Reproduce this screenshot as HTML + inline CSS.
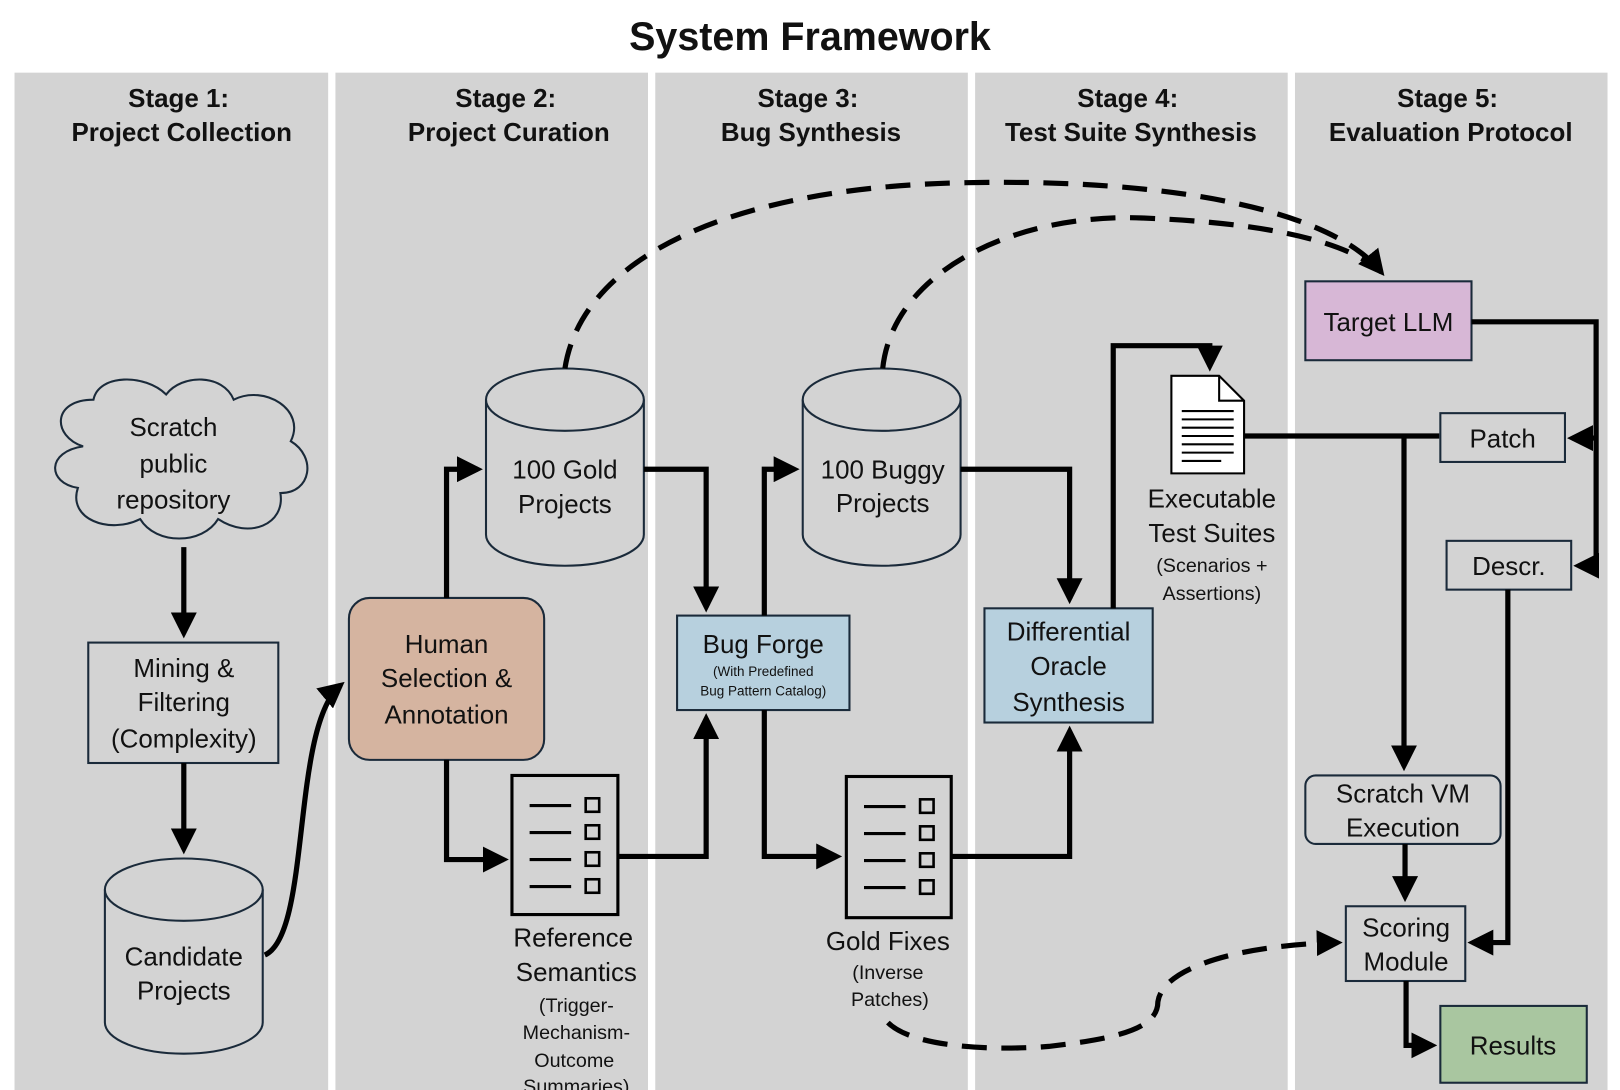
<!DOCTYPE html>
<html><head><meta charset="utf-8"><style>
html,body{margin:0;padding:0;background:#fff;}
svg{display:block;}
text{font-family:"Liberation Sans",sans-serif;fill:#111;}
.h{font-weight:bold;font-size:25px;}
.t{font-size:25px;}
.s{font-size:19px;}
.xs{font-size:13px;}
.ln{stroke:#000;stroke-width:5;fill:none;}
.bx{stroke:#1a2a3a;stroke-width:2;}
.ds{stroke:#000;stroke-width:5;fill:none;stroke-dasharray:24 14;}
</style></head><body>
<svg width="1620" height="1090" viewBox="0 0 1560 1050" preserveAspectRatio="none" xmlns="http://www.w3.org/2000/svg">
<defs>
<marker id="a" markerWidth="5" markerHeight="5" refX="4" refY="2.5" orient="auto" markerUnits="strokeWidth"><path d="M0,0 L5,2.5 L0,5 z" fill="#000"/></marker>
</defs>
<rect width="1560" height="1050" fill="#fff"/>
<text x="780" y="48" text-anchor="middle" style="font-weight:bold;font-size:38px">System Framework</text>
<g fill="#d3d3d3">
<rect x="14" y="70" width="302" height="985"/>
<rect x="323" y="70" width="301" height="985"/>
<rect x="631" y="70" width="301" height="985"/>
<rect x="939" y="70" width="301" height="985"/>
<rect x="1247" y="70" width="301" height="985"/>
</g>
<g class="h" text-anchor="middle">
<text class="h" x="172" y="103">Stage 1:</text><text class="h" x="175" y="136">Project Collection</text>
<text class="h" x="487" y="103">Stage 2:</text><text class="h" x="490" y="136">Project Curation</text>
<text class="h" x="778" y="103">Stage 3:</text><text class="h" x="781" y="136">Bug Synthesis</text>
<text class="h" x="1086" y="103">Stage 4:</text><text class="h" x="1089" y="136">Test Suite Synthesis</text>
<text class="h" x="1394" y="103">Stage 5:</text><text class="h" x="1397" y="136">Evaluation Protocol</text>
</g>

<!-- cloud -->
<path d="M80,430 C50,420 50,385 90,385 C95,360 140,360 160,380 C175,360 215,360 225,385 C255,370 295,395 280,425 C305,440 300,475 270,475 C275,505 240,520 210,500 C195,525 150,525 135,500 C105,515 65,500 75,470 C45,465 45,435 80,430 z" fill="#d3d3d3" stroke="#1a2a3a" stroke-width="2"/>
<g class="t" text-anchor="middle">
<text class="t" x="167" y="420">Scratch</text><text class="t" x="167" y="455">public</text><text class="t" x="167" y="490">repository</text>
</g>
<line class="ln" x1="177" y1="527" x2="177" y2="610" marker-end="url(#a)"/>
<rect class="bx" x="85" y="619" width="183" height="116" fill="#d3d3d3"/>
<g text-anchor="middle"><text class="t" x="177" y="652">Mining &amp;</text><text class="t" x="177" y="685">Filtering</text><text class="t" x="177" y="720">(Complexity)</text></g>
<line class="ln" x1="177" y1="735" x2="177" y2="818" marker-end="url(#a)"/>
<!-- candidate cylinder -->
<path d="M101,857 L101,985 A76,30 0 0 0 253,985 L253,857" fill="#d3d3d3" stroke="#1a2a3a" stroke-width="2"/>
<ellipse cx="177" cy="857" rx="76" ry="30" fill="#d3d3d3" stroke="#1a2a3a" stroke-width="2"/>
<g text-anchor="middle"><text class="t" x="177" y="930">Candidate</text><text class="t" x="177" y="963">Projects</text></g>
<path class="ln" d="M255,920 C300,900 280,700 328,660" marker-end="url(#a)"/>

<!-- human -->
<rect x="336" y="576" width="188" height="156" rx="20" fill="#d5b4a0" stroke="#1a2a3a" stroke-width="2"/>
<g text-anchor="middle"><text class="t" x="430" y="629">Human</text><text class="t" x="430" y="662">Selection &amp;</text><text class="t" x="430" y="697">Annotation</text></g>
<path class="ln" d="M430,576 L430,452 L460,452" marker-end="url(#a)"/>
<path class="ln" d="M430,732 L430,828 L485,828" marker-end="url(#a)"/>

<!-- gold cylinder -->
<path d="M468,385 L468,515 A76,30 0 0 0 620,515 L620,385" fill="#d3d3d3" stroke="#1a2a3a" stroke-width="2"/>
<ellipse cx="544" cy="385" rx="76" ry="30" fill="#d3d3d3" stroke="#1a2a3a" stroke-width="2"/>
<g text-anchor="middle"><text class="t" x="544" y="461">100 Gold</text><text class="t" x="544" y="494">Projects</text></g>

<!-- reference doc -->
<g stroke="#000" fill="none">
<rect x="493" y="747" width="102" height="134" stroke-width="3"/>
<g stroke-width="3"><line x1="510" y1="776" x2="550" y2="776"/><line x1="510" y1="802" x2="550" y2="802"/><line x1="510" y1="828" x2="550" y2="828"/><line x1="510" y1="854" x2="550" y2="854"/></g>
<g stroke-width="2.5"><rect x="564" y="769" width="13" height="13"/><rect x="564" y="795" width="13" height="13"/><rect x="564" y="821" width="13" height="13"/><rect x="564" y="847" width="13" height="13"/></g>
</g>
<g text-anchor="middle"><text class="t" x="552" y="912">Reference</text><text class="t" x="555" y="945">Semantics</text>
<text class="s" x="555" y="975">(Trigger-</text><text class="s" x="555" y="1001">Mechanism-</text><text class="s" x="553" y="1028">Outcome</text><text class="s" x="555" y="1053">Summaries)</text></g>
<path class="ln" d="M620,452 L680,452 L680,585" marker-end="url(#a)"/>
<path class="ln" d="M595,825 L680,825 L680,692" marker-end="url(#a)"/>

<!-- bug forge -->
<rect class="bx" x="652" y="593" width="166" height="91" fill="#b7d0de"/>
<g text-anchor="middle"><text class="t" x="735" y="629">Bug Forge</text><text class="xs" x="735" y="651">(With Predefined</text><text class="xs" x="735" y="670">Bug Pattern Catalog)</text></g>
<path class="ln" d="M736,593 L736,452 L765,452" marker-end="url(#a)"/>
<path class="ln" d="M736,684 L736,825 L806,825" marker-end="url(#a)"/>

<!-- buggy cylinder -->
<path d="M773,385 L773,515 A76,30 0 0 0 925,515 L925,385" fill="#d3d3d3" stroke="#1a2a3a" stroke-width="2"/>
<ellipse cx="849" cy="385" rx="76" ry="30" fill="#d3d3d3" stroke="#1a2a3a" stroke-width="2"/>
<g text-anchor="middle"><text class="t" x="850" y="461">100 Buggy</text><text class="t" x="850" y="493">Projects</text></g>

<!-- gold fixes doc -->
<g stroke="#000" fill="none">
<rect x="815" y="748" width="101" height="136" stroke-width="3"/>
<g stroke-width="3"><line x1="832" y1="777" x2="872" y2="777"/><line x1="832" y1="803" x2="872" y2="803"/><line x1="832" y1="829" x2="872" y2="829"/><line x1="832" y1="855" x2="872" y2="855"/></g>
<g stroke-width="2.5"><rect x="886" y="770" width="13" height="13"/><rect x="886" y="796" width="13" height="13"/><rect x="886" y="822" width="13" height="13"/><rect x="886" y="848" width="13" height="13"/></g>
</g>
<g text-anchor="middle"><text class="t" x="855" y="915">Gold Fixes</text><text class="s" x="855" y="943">(Inverse</text><text class="s" x="857" y="969">Patches)</text></g>
<path class="ln" d="M925,452 L1030,452 L1030,577" marker-end="url(#a)"/>
<path class="ln" d="M916,825 L1030,825 L1030,704" marker-end="url(#a)"/>

<!-- differential -->
<rect class="bx" x="948" y="586" width="162" height="110" fill="#b7d0de"/>
<g text-anchor="middle"><text class="t" x="1029" y="617">Differential</text><text class="t" x="1029" y="650">Oracle</text><text class="t" x="1029" y="685">Synthesis</text></g>
<path class="ln" d="M1072,586 L1072,333 L1165,333 L1165,353" marker-end="url(#a)"/>

<!-- test doc -->
<path d="M1128,362 L1174,362 L1198,386 L1198,456 L1128,456 z" fill="#fff" stroke="#000" stroke-width="2"/>
<path d="M1174,362 L1174,386 L1198,386" fill="none" stroke="#000" stroke-width="2"/>
<g stroke="#000" stroke-width="2"><line x1="1138" y1="396" x2="1188" y2="396"/><line x1="1138" y1="404" x2="1188" y2="404"/><line x1="1138" y1="412" x2="1188" y2="412"/><line x1="1138" y1="420" x2="1188" y2="420"/><line x1="1138" y1="428" x2="1188" y2="428"/><line x1="1138" y1="436" x2="1188" y2="436"/><line x1="1138" y1="444" x2="1176" y2="444"/></g>
<g text-anchor="middle"><text class="t" x="1167" y="489">Executable</text><text class="t" x="1167" y="522">Test Suites</text><text class="s" x="1167" y="551">(Scenarios +</text><text class="s" x="1167" y="578">Assertions)</text></g>
<path class="ln" d="M1198,420 L1386,420"/>
<path class="ln" d="M1352,420 L1352,738" marker-end="url(#a)"/>

<!-- target LLM -->
<rect class="bx" x="1257" y="271" width="160" height="76" fill="#d7b7d6"/>
<text class="t" x="1337" y="319" text-anchor="middle">Target LLM</text>
<path class="ln" d="M1417,310 L1537,310 L1537,545 L1520,545" marker-end="url(#a)"/>
<path class="ln" d="M1537,422 L1514,422" marker-end="url(#a)"/>
<rect class="bx" x="1387" y="398" width="120" height="47" fill="#d3d3d3"/>
<text class="t" x="1447" y="431" text-anchor="middle">Patch</text>
<rect class="bx" x="1393" y="521" width="120" height="47" fill="#d3d3d3"/>
<text class="t" x="1453" y="554" text-anchor="middle">Descr.</text>
<path class="ln" d="M1452,568 L1452,908 L1418,908" marker-end="url(#a)"/>

<rect class="bx" x="1257" y="747" width="188" height="66" rx="10" fill="#d3d3d3"/>
<g text-anchor="middle"><text class="t" x="1351" y="773">Scratch VM</text><text class="t" x="1351" y="806">Execution</text></g>
<line class="ln" x1="1353" y1="813" x2="1353" y2="864" marker-end="url(#a)"/>
<rect class="bx" x="1296" y="873" width="115" height="72" fill="#d3d3d3"/>
<g text-anchor="middle"><text class="t" x="1354" y="902">Scoring</text><text class="t" x="1354" y="935">Module</text></g>
<path class="ln" d="M1354,945 L1354,1007 L1379,1007" marker-end="url(#a)"/>
<rect class="bx" x="1387" y="969" width="141" height="74" fill="#a9c6a0"/>
<text class="t" x="1457" y="1016" text-anchor="middle">Results</text>

<!-- dashed -->
<path class="ds" d="M544,355 C560,250 700,180 930,176 C1120,172 1280,200 1330,262" marker-end="url(#a)"/>
<path class="ds" d="M850,355 C860,260 980,205 1100,210 C1230,215 1300,235 1330,262"/>
<path class="ds" d="M855,985 C880,1010 960,1012 1010,1008 C1080,1000 1115,990 1115,965 C1120,930 1200,910 1288,908" marker-end="url(#a)"/>
</svg>
</body></html>
